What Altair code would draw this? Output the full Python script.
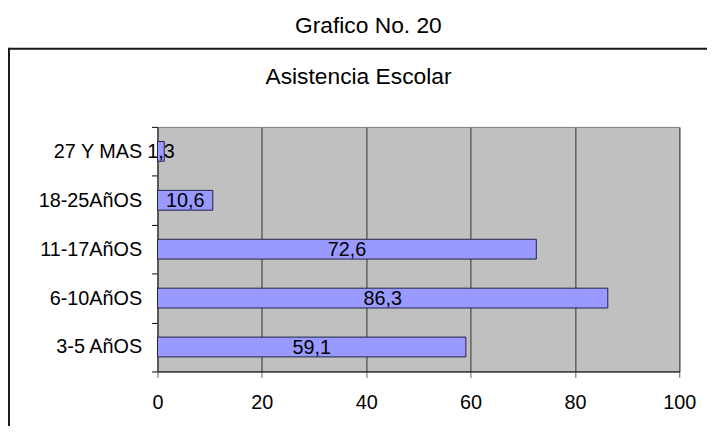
import altair as alt
import pandas as pd

categories = ["27 Y MAS", "18-25AñOS", "11-17AñOS", "6-10AñOS", "3-5 AñOS"]
values = [1.3, 10.6, 72.6, 86.3, 59.1]
labels = ["1,3", "10,6", "72,6", "86,3", "59,1"]
x_ticks = [0, 20, 40, 60, 80, 100]
chart_title = "Grafico No. 20"
plot_title = "Asistencia Escolar"

df = pd.DataFrame({"cat": categories, "val": values, "lab": labels})
df["mid"] = df["val"] / 2

W, H = 527, 247
PAD_L, PAD_T = 151, 118
PAD_R = 706 - PAD_L - W
PAD_B = 418 - PAD_T - H
FONT = "Liberation Sans, Arial, sans-serif"

yscale = alt.Scale(domain=categories, paddingInner=0, paddingOuter=0)
xscale = alt.Scale(domain=[0, 100], nice=False, zero=True)

y_axis = alt.Axis(title=None, tickBand="extent", labelFontSize=20, labelFont=FONT,
                  labelColor="black", labelPadding=10, tickSize=6, tickColor="black",
                  domainColor="#505050", domainWidth=1.5, labelLimit=300, grid=False)
x_axis = alt.Axis(title=None, values=x_ticks, tickSize=6, tickColor="#606060",
                  domainColor="black", domainWidth=1, grid=True, gridColor="#606060",
                  gridWidth=1.5, labelFontSize=20, labelPadding=15, labelFont=FONT,
                  labelColor="black", labelFlush=False)

X = alt.X("val:Q", scale=xscale, axis=x_axis, title=None)
Y = alt.Y("cat:N", sort=categories, scale=yscale, axis=y_axis, title=None)

bars = alt.Chart(df).mark_bar(size=20, color="#9999FF", stroke="#222244", strokeWidth=1).encode(
    x=X, y=Y,
)

texts = alt.Chart(df).mark_text(
    fontSize=20, font=FONT, color="black", baseline="middle", align="center", dy=1
).encode(
    x=alt.X("mid:Q", scale=xscale, axis=x_axis, title=None),
    y=Y,
    text="lab:N",
)

one = alt.Data(values=[{}])
title1 = alt.Chart(one).mark_text(fontSize=23, font=FONT, color="black", align="center",
                                  baseline="alphabetic").encode(
    x=alt.value(213), y=alt.value(-95), text=alt.value(chart_title))
title2 = alt.Chart(one).mark_text(fontSize=23, font=FONT, color="black", align="center",
                                  baseline="alphabetic").encode(
    x=alt.value(203), y=alt.value(-43), text=alt.value(plot_title))
top_line = alt.Chart(one).mark_rule(color="#1a1a1a", strokeWidth=2).encode(
    x=alt.value(-150), x2=alt.value(565), y=alt.value(-79))
left_line = alt.Chart(one).mark_rule(color="#1a1a1a", strokeWidth=2).encode(
    x=alt.value(-150), y=alt.value(-80), y2=alt.value(320))

chart = alt.layer(bars, texts, title1, title2, top_line, left_line).properties(
    width=W, height=H,
    autosize=alt.AutoSizeParams(type="none"),
    padding={"left": PAD_L, "top": PAD_T, "right": PAD_R, "bottom": PAD_B},
    background="white",
).configure_view(fill="#C0C0C0", stroke="#808080", strokeWidth=1)

chart.save("out.html", embed_options={"renderer": "svg", "actions": False})
